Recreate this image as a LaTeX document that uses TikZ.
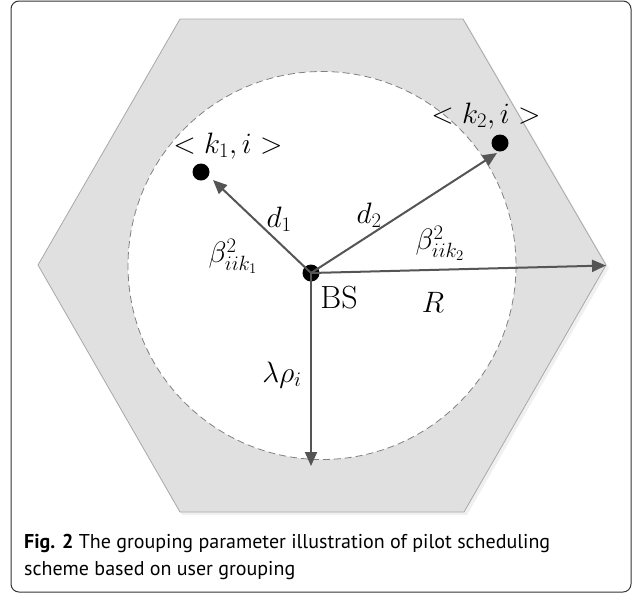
\documentclass[tikz,border=0pt]{standalone}
\usepackage{fix-cm}
\usepackage{fontspec}
\newfontfamily\capfont{PT Sans}
\usetikzlibrary{arrows.meta}
\definecolor{hexfill}{HTML}{E0E0E0}
\definecolor{hexline}{HTML}{A8A8A8}
\definecolor{arr}{HTML}{555555}
\definecolor{frame}{HTML}{333333}
\tikzset{
  arrowline/.style={draw=arr, line width=2pt, -{Triangle[length=14pt,width=12pt]}},
  userdot/.style={circle, fill=black, inner sep=0pt, minimum size=17pt},
  lbl/.style={inner sep=0pt, font=\fontsize{29.5}{35}\selectfont},
}
\begin{document}
\begin{tikzpicture}[x=1pt,y=-1pt]
\useasboundingbox (0,0) rectangle (636,595);
% outer frame
\draw[frame, line width=1pt, rounded corners=8pt] (11,1) rectangle (631,592);
% hexagon shadow
\fill[black!6] (182,22) -- (466,22) -- (609,268) -- (467,515) -- (182,515) -- (40,268) -- cycle;
% hexagon
\filldraw[fill=hexfill, draw=hexline, line width=0.8pt]
  (180,19) -- (463,19) -- (606,265) -- (464,512) -- (180,512) -- (38,265) -- cycle;
% inner circle
\filldraw[fill=white, draw=black!50, line width=0.8pt, dash pattern=on 7pt off 4pt]
  (322,265.5) circle (194);
% nodes
\node[userdot] (bs) at (311,273) {};
\node[userdot] (k1) at (201,172) {};
\node[userdot] (k2) at (500,143) {};
\coordinate (k1tip) at (213,180);
\coordinate (k2tip) at (497,153);
\coordinate (rtip) at (606,265.5);
\coordinate (dtip) at (311,466);
% arrows
\draw[arrowline] (bs.center) -- (k1tip);
\draw[arrowline] (bs.center) -- (k2tip);
\draw[arrowline] (bs.center) -- (rtip);
\draw[arrowline] (bs.center) -- (dtip);
% labels
\node[lbl] (lk1) at (228,146) {$<k_1,i>$};
\node[lbl] (lk2) at (486,116) {$<k_2,i>$};
\node[lbl] (ld1) at (279,219) {$d_1$};
\node[lbl] (ld2) at (369,215) {$d_2$};
\node[lbl] (lb1) at (233,256) {$\beta^2_{iik_1}$};
\node[lbl] (lb2) at (440,243) {$\beta^2_{iik_2}$};
\node[inner sep=0pt, font=\fontsize{32}{38}\selectfont] (lbs) at (339,298) {BS};
\node[lbl] (lr) at (433,302) {$R$};
\node[lbl] (llr) at (282,375) {$\lambda\rho_i$};
% caption
\node[anchor=base west, inner sep=0pt, font=\capfont\fontsize{20}{27}\selectfont] (cap1) at (24,548)
  {\textbf{Fig. 2} The grouping parameter illustration of pilot scheduling};
\node[anchor=base west, inner sep=0pt, font=\capfont\fontsize{20}{27}\selectfont] (cap2) at (24,575)
  {scheme based on user grouping};
\end{tikzpicture}
\end{document}
